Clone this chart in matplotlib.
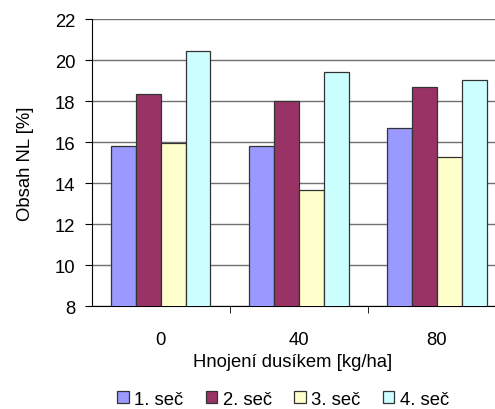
import numpy as np
import matplotlib
matplotlib.use("Agg")
import matplotlib.pyplot as plt

plt.rcParams['font.family'] = ['Liberation Sans', 'DejaVu Sans']

# Data
categories = ["0", "40", "80"]
series_names = ["1. seč", "2. seč", "3. seč", "4. seč"]
sec1 = [15.8, 15.8, 16.7]
sec2 = [18.36, 17.98, 18.68]
sec3 = [15.95, 13.67, 15.25]
sec4 = [20.44, 19.43, 19.03]
colors = ["#9999FF", "#993366", "#FFFFCC", "#CCFFFF"]

fs = 13.3

fig = plt.figure(figsize=(4.95, 4.10), dpi=100)
ax = fig.add_axes([0.1853, 0.2512, 0.837, 0.70])

x = np.arange(len(categories))
width = 0.18
values = [sec1, sec2, sec3, sec4]
for i, (vals, name, col) in enumerate(zip(values, series_names, colors)):
    ax.bar(x + (i - 1.5) * width, vals, width, bottom=0, color=col,
           edgecolor="#333333", linewidth=0.9, label=name, zorder=3)

ax.set_ylim(8, 22)
ax.set_xlim(-0.5, 2.5)
ax.set_yticks(np.arange(8, 23, 2))
ax.set_xticks(x)
ax.set_xticklabels(categories)
ax.set_xticks([0.5, 1.5], minor=True)

ax.yaxis.grid(True, color="#707070", linewidth=1.0, zorder=0)
ax.set_axisbelow(True)

for s in ["top", "right"]:
    ax.spines[s].set_visible(False)
ax.spines["left"].set_color("black")
ax.spines["bottom"].set_color("black")

ax.tick_params(axis="y", direction="out", length=4.8, pad=7, labelsize=fs, colors="black")
ax.tick_params(axis="x", which="major", length=0, pad=18, labelsize=fs)
ax.tick_params(axis="x", which="minor", direction="out", length=4.8)

ax.set_ylabel("Obsah NL [%]", fontsize=fs)
ax.yaxis.set_label_coords(-0.14, 0.498)
ax.set_xlabel("Hnojení dusíkem [kg/ha]", fontsize=fs)
ax.xaxis.set_label_coords(0.485, -0.162)

fig.legend(loc="center", bbox_to_anchor=(0.572, 0.024), ncol=4, frameon=False,
           fontsize=fs, handlelength=0.62, handleheight=0.62, handletextpad=0.3,
           columnspacing=1.2)

plt.savefig("out.png", dpi=100)
plt.close()
